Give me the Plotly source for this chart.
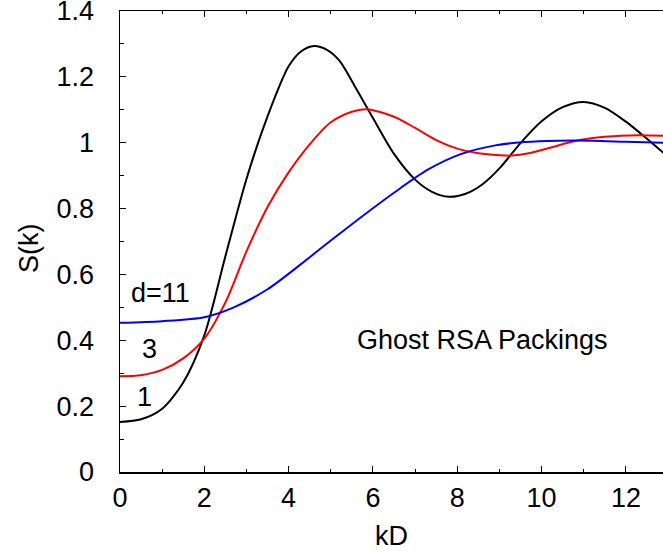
import plotly.graph_objects as go

# d = 1 (black)
x_d1 = [0, 0.5, 1.0, 1.5, 2.0, 2.5, 3.0, 3.5, 4.0, 4.3, 4.6, 4.9, 5.2, 5.6, 6.0, 6.5,
        7.0, 7.4, 7.8, 8.2, 8.6, 9.0, 9.5, 10.0, 10.5, 11.0, 11.5, 12.0, 12.5, 12.9]
s_d1 = [0.152, 0.160, 0.192, 0.272, 0.415, 0.655, 0.89, 1.08, 1.232, 1.278, 1.294, 1.283,
        1.25, 1.165, 1.075, 0.966, 0.888, 0.851, 0.836, 0.845, 0.874, 0.922, 0.999,
        1.065, 1.108, 1.124, 1.106, 1.064, 1.012, 0.968]

# d = 3 (red)
x_d3 = [0, 0.5, 1.0, 1.5, 2.0, 2.5, 3.0, 3.5, 4.0, 4.5, 5.0, 5.5, 5.85, 6.5, 7.0, 7.5,
        8.0, 8.5, 9.0, 9.3, 9.7, 10.2, 10.9, 11.5, 12.3, 12.9]
s_d3 = [0.291, 0.294, 0.31, 0.345, 0.405, 0.515, 0.67, 0.805, 0.91, 0.995, 1.062, 1.094,
        1.102, 1.079, 1.045, 1.008, 0.982, 0.968, 0.962, 0.961, 0.968, 0.985, 1.008,
        1.018, 1.023, 1.021]

# d = 11 (blue)
x_d11 = [0, 1.0, 2.0, 2.7, 3.5, 4.3, 5.0, 5.7, 6.5, 7.3, 8.1, 8.9, 9.6, 10.4, 11.2,
         12.0, 12.9]
s_d11 = [0.453, 0.458, 0.47, 0.5, 0.555, 0.632, 0.703, 0.772, 0.848, 0.918, 0.966,
         0.992, 1.002, 1.006, 1.006, 1.003, 1.0]

x_ticks = [0, 2, 4, 6, 8, 10, 12]
y_ticks = [0, 0.2, 0.4, 0.6, 0.8, 1.0, 1.2, 1.4]
y_tick_labels = ["0", "0.2", "0.4", "0.6", "0.8", "1", "1.2", "1.4"]

FONT = "Liberation Sans, Arial, Helvetica, sans-serif"

fig = go.Figure()
for xs, ys, col in [(x_d1, s_d1, "black"), (x_d3, s_d3, "#ff0000"), (x_d11, s_d11, "#0000ff")]:
    fig.add_trace(go.Scatter(x=xs, y=ys, mode="lines",
                             line=dict(color=col, width=2, shape="spline", smoothing=0.8),
                             showlegend=False, hoverinfo="skip"))

annots = [
    dict(x=0.97, y=0.545, text="d=11"),
    dict(x=0.71, y=0.373, text="3"),
    dict(x=0.59, y=0.228, text="1"),
    dict(x=8.61, y=0.40, text="Ghost RSA Packings"),
]
for a in annots:
    fig.add_annotation(x=a["x"], y=a["y"], text=a["text"], showarrow=False,
                       xref="x", yref="y", font=dict(size=27, color="black", family=FONT))

# page body margin is removed by the post script, so the figure fills the window
W, H = 663, 554
ML, MR, MT, MB = 120, 0, 11, 82
pw, ph = W - ML - MR, H - MT - MB
fig.add_annotation(x=(391 - ML) / pw, y=(H - MB - 536) / ph, xref="paper", yref="paper",
                   xanchor="center", yanchor="middle",
                   text="kD", showarrow=False, font=dict(size=27, family=FONT, color="black"))
fig.add_annotation(x=(29 - ML) / pw, y=(H - MB - 248) / ph, xref="paper", yref="paper",
                   xanchor="center", yanchor="middle",
                   text="S(k)", textangle=-90, showarrow=False,
                   font=dict(size=27, family=FONT, color="black"))

fig.update_layout(
    width=W, height=H,
    margin=dict(l=ML, r=MR, t=MT, b=MB, autoexpand=False),
    paper_bgcolor="white", plot_bgcolor="white",
    font=dict(family=FONT, size=27, color="black"),
)
fig.update_xaxes(
    range=[0, 12.88], tickvals=x_ticks, ticks="inside", ticklen=6, tickwidth=1,
    tickcolor="black", showline=True, linecolor="black", linewidth=1.5,
    mirror="ticks", showgrid=False, zeroline=False, automargin=False,
    minor=dict(dtick=1, ticks="inside", ticklen=3, tickcolor="black", showgrid=False),
    tickfont=dict(size=27, family=FONT), ticklabelstandoff=1, ticklabeloverflow="allow",
)
fig.update_yaxes(
    range=[0, 1.4001], tickvals=y_ticks, ticktext=y_tick_labels, ticks="inside",
    ticklen=6, tickwidth=1, tickcolor="black", showline=True, linecolor="black",
    linewidth=1.5, mirror=False, showgrid=False, zeroline=False, automargin=False,
    minor=dict(dtick=0.1, ticks="inside", ticklen=4, tickcolor="black", showgrid=False),
    tickfont=dict(size=27, family=FONT), ticklabelstandoff=19, ticklabeloverflow="allow",
)

fig.write_html("out.html", config={"displayModeBar": False, "staticPlot": True},
               post_script="document.body.style.margin='0';")
